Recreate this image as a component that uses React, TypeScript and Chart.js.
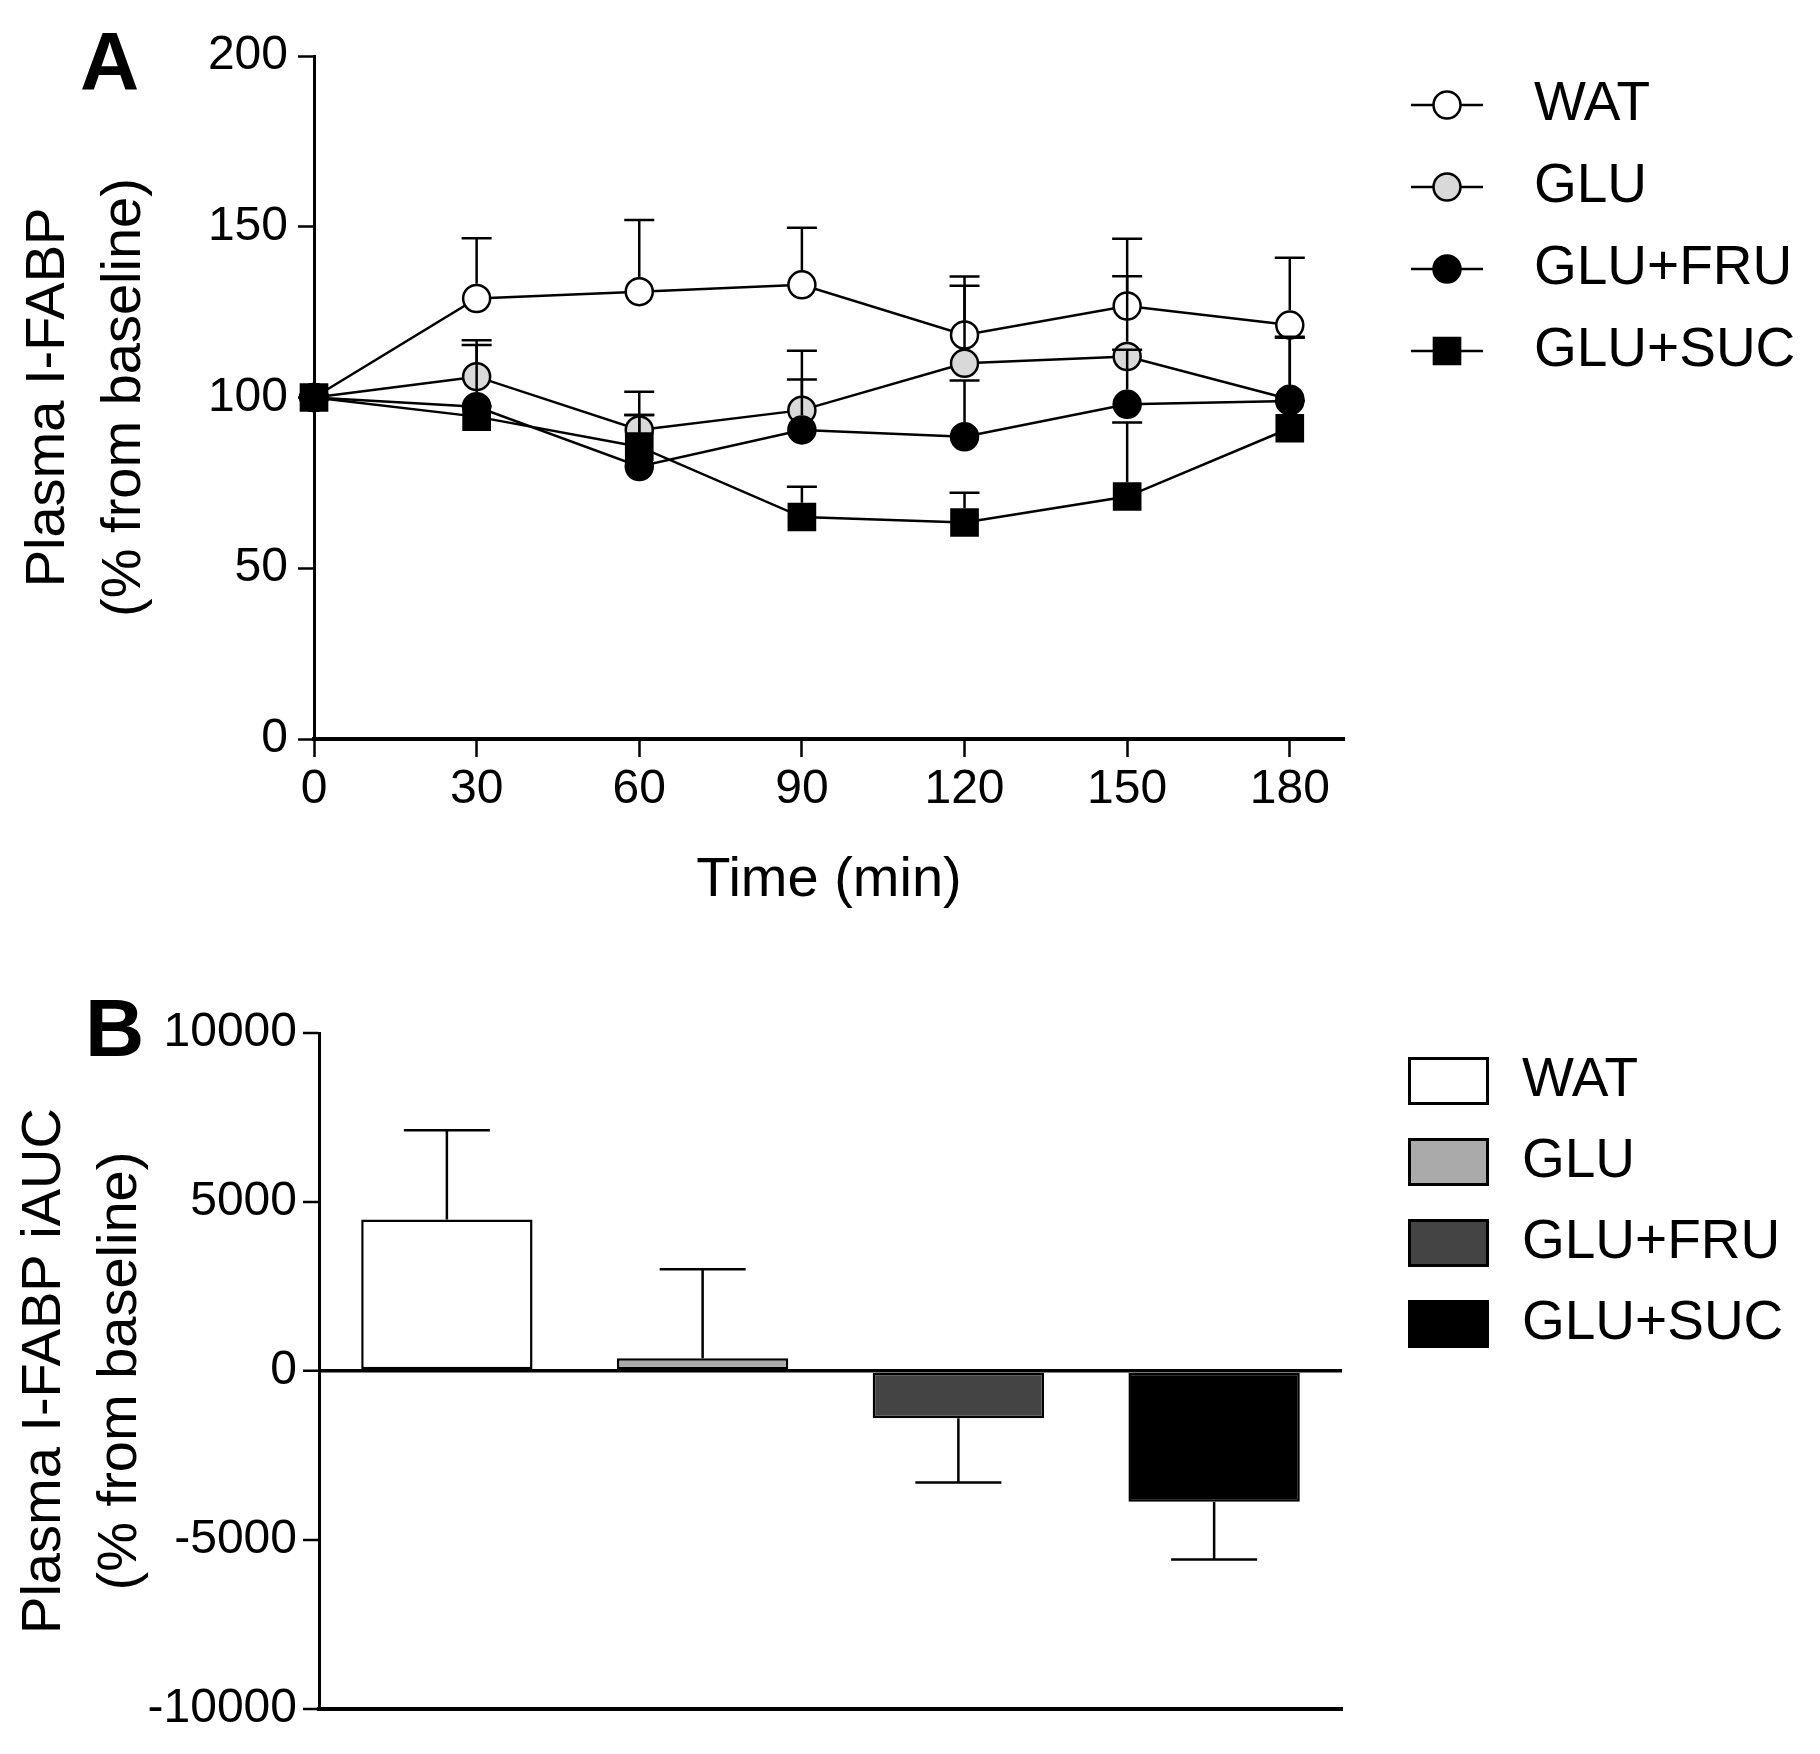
import { Chart, registerables, type ChartConfiguration, type Plugin } from "chart.js";
import { useEffect, useRef } from "react";

Chart.register(...registerables);

const FONT = "Arial, 'Liberation Sans', Helvetica, sans-serif";

// Panel A: time course (% from baseline)
const timePoints = [0, 30, 60, 90, 120, 150, 180];
const timeTicks = [0, 30, 60, 90, 120, 150, 180];
const pctTicks = [0, 50, 100, 150, 200];

const watPct = [100, 129, 131, 133, 118.3, 126.8, 121.2];
const watPctSem = [0, 17.6, 21, 16.7, 17.1, 19.7, 19.7];
const gluPct = [100, 106.1, 90.5, 96.3, 110, 112, 99.5];
const gluPctSem = [0, 10.7, 11.2, 17.4, 22.7, 23.5, 18.3];
const fruPct = [100, 97.3, 79.8, 90.5, 88.5, 98, 99];
const fruPctSem = [0, 18.1, 15.1, 14.8, 16.5, 16, 18.5];
const sucPct = [100, 94.4, 85.6, 65, 63.4, 71, 91];
const sucPctSem = [0, 3, 9.3, 8.9, 8.7, 21.7, 8];

// Panel B: iAUC
const groups = ["WAT", "GLU", "GLU+FRU", "GLU+SUC"];
const iauc = [4480, 380, -1400, -3870];
const iaucSem = [2640, 2630, 1900, 1710];
const iaucTicks = [-10000, -5000, 0, 5000, 10000];
const barColors = ["#ffffff", "#aaaaaa", "#444444", "#000000"];

const markerHalf = (ds: any) => {
  const r = ds.pointRadius ?? 0;
  const bw = ds.pointBorderWidth ?? 0;
  return (ds.pointStyle === "rect" ? r * Math.SQRT1_2 : r) + bw / 2;
};

const drawMarker = (ctx: CanvasRenderingContext2D, ds: any, x: number, y: number) => {
  const r = ds.pointRadius;
  ctx.beginPath();
  if (ds.pointStyle === "rect") {
    const s = r * Math.SQRT1_2;
    ctx.rect(x - s, y - s, 2 * s, 2 * s);
  } else {
    ctx.arc(x, y, r, 0, Math.PI * 2);
  }
  ctx.fillStyle = ds.pointBackgroundColor;
  ctx.fill();
  ctx.lineWidth = ds.pointBorderWidth;
  ctx.strokeStyle = ds.pointBorderColor;
  ctx.stroke();
};

// error bars, one direction only (away from zero), drawn over the marks
const errorBars: Plugin = {
  id: "errorBars",
  afterDatasetsDraw(chart, _args, opts: any) {
    const { ctx } = chart;
    ctx.save();
    ctx.strokeStyle = "#000";
    ctx.lineWidth = opts.lineWidth ?? 2.5;
    ctx.lineCap = "butt";
    chart.data.datasets.forEach((ds: any, i) => {
      const errs: number[] | undefined = ds.errors;
      const meta = chart.getDatasetMeta(i);
      if (!errs) return;
      const yScale = chart.scales[meta.yAxisID as string];
      const gap = opts.fromMarker ? markerHalf(ds) : 0;
      meta.data.forEach((el: any, j) => {
        const v = (meta.controller.getParsed(j) as any).y;
        const e = errs[j];
        if (!e) return;
        const sign = v < 0 ? -1 : 1;
        const yEnd = yScale.getPixelForValue(v + sign * e);
        const yStart = el.y - sign * gap;
        ctx.beginPath();
        if (sign * (yStart - yEnd) > 0) {
          ctx.moveTo(el.x, yStart);
          ctx.lineTo(el.x, yEnd);
        }
        ctx.moveTo(el.x - opts.capWidth / 2, yEnd);
        ctx.lineTo(el.x + opts.capWidth / 2, yEnd);
        ctx.stroke();
      });
    });
    ctx.restore();
  },
};

const sideLegend: Plugin = {
  id: "sideLegend",
  afterDraw(chart, _args, opts: any) {
    const { ctx } = chart;
    ctx.save();
    ctx.font = `${opts.fontSize}px ${FONT}`;
    ctx.textBaseline = "middle";
    ctx.textAlign = "left";
    if (opts.mode === "line") {
      chart.data.datasets.forEach((ds: any, i) => {
        const y = opts.y + i * opts.step;
        ctx.beginPath();
        ctx.moveTo(opts.x, y);
        ctx.lineTo(opts.x + opts.width, y);
        ctx.lineWidth = ds.borderWidth;
        ctx.strokeStyle = ds.borderColor;
        ctx.stroke();
        drawMarker(ctx, ds, opts.x + opts.width / 2, y);
        ctx.fillStyle = "#000";
        ctx.fillText(ds.label, opts.textX, y);
      });
    } else {
      const ds: any = chart.data.datasets[0];
      (chart.data.labels as string[]).forEach((label, i) => {
        const y = opts.y + i * opts.step;
        const bw = opts.borderWidth;
        ctx.fillStyle = ds.backgroundColor[i];
        ctx.fillRect(opts.x, y - opts.height / 2, opts.width, opts.height);
        ctx.lineWidth = bw;
        ctx.strokeStyle = "#000";
        ctx.strokeRect(opts.x + bw / 2, y - opts.height / 2 + bw / 2, opts.width - bw, opts.height - bw);
        ctx.fillStyle = "#000";
        ctx.fillText(label, opts.textX, y);
      });
    }
    ctx.restore();
  },
};

const panelLetter: Plugin = {
  id: "panelLetter",
  afterDraw(chart, _args, opts: any) {
    const { ctx } = chart;
    ctx.save();
    ctx.font = `bold ${opts.fontSize}px ${FONT}`;
    ctx.textBaseline = "alphabetic";
    ctx.fillStyle = "#000";
    ctx.fillText(opts.text, opts.x, opts.y);
    ctx.restore();
  },
};

const lineSeries = (
  label: string,
  values: number[],
  errors: number[],
  fill: string,
  style: "circle" | "rect",
  order: number
) => ({
  label,
  data: timePoints.map((t, i) => ({ x: t, y: values[i] })),
  errors,
  borderColor: "#000",
  borderWidth: 2.5,
  pointStyle: style,
  pointRadius: style === "rect" ? 18.5 : 13.5,
  pointHoverRadius: style === "rect" ? 18.5 : 13.5,
  pointBackgroundColor: fill,
  pointBorderColor: "#000",
  pointBorderWidth: 2.5,
  tension: 0,
  clip: false as const,
  order,
});

const PanelA = () => {
  const canvasRef = useRef<HTMLCanvasElement | null>(null);
  useEffect(() => {
    if (!canvasRef.current) return;
    const config: ChartConfiguration<"line"> = {
      type: "line",
      data: {
        datasets: [
          lineSeries("WAT", watPct, watPctSem, "#ffffff", "circle", 4),
          lineSeries("GLU", gluPct, gluPctSem, "#d9d9d9", "circle", 3),
          lineSeries("GLU+FRU", fruPct, fruPctSem, "#000000", "circle", 2),
          lineSeries("GLU+SUC", sucPct, sucPctSem, "#000000", "rect", 1),
        ] as any,
      },
      options: {
        animation: false,
        responsive: true,
        maintainAspectRatio: false,
        events: [],
        layout: { padding: { left: 0, top: 56, right: 476, bottom: 0 } },
        plugins: {
          legend: { display: false },
          tooltip: { enabled: false },
          errorBars: { capWidth: 30, lineWidth: 2.5, fromMarker: true },
          sideLegend: { mode: "line", x: 1411, width: 72, textX: 1534, y: 105, step: 82, fontSize: 55 },
          panelLetter: { text: "A", x: 80, y: 89, fontSize: 82 },
        } as any,
        scales: {
          x: {
            type: "linear",
            min: 0,
            max: 190,
            afterBuildTicks: (s) => {
              s.ticks = timeTicks.map((v) => ({ value: v }));
            },
            afterFit: (s) => {
              s.height = 201;
            },
            grid: { drawOnChartArea: false, drawTicks: true, tickLength: 18, tickWidth: 2.5, tickColor: "#000" },
            border: { display: true, color: "#000", width: 4 },
            ticks: { color: "#000", font: { size: 48 }, padding: 4, maxRotation: 0, autoSkip: false },
            title: {
              display: true,
              text: "Time (min)",
              color: "#000",
              font: { size: 56 },
              padding: { top: 0, bottom: 26 },
            },
          },
          y: {
            min: 0,
            max: 200,
            afterBuildTicks: (s) => {
              s.ticks = pctTicks.map((v) => ({ value: v }));
            },
            afterFit: (s) => {
              s.width = 314;
            },
            grid: { drawOnChartArea: false, drawTicks: true, tickLength: 16, tickWidth: 2.5, tickColor: "#000" },
            border: { display: true, color: "#000", width: 3 },
            ticks: { color: "#000", font: { size: 48 }, padding: 10 },
            title: {
              display: true,
              text: ["Plasma I-FABP", "(% from baseline)"],
              color: "#000",
              font: { size: 56, lineHeight: 1.36 },
              padding: { top: 10, bottom: 0 },
            },
          },
        },
      },
      plugins: [errorBars, sideLegend, panelLetter],
    };
    const chart = new Chart(canvasRef.current, config);
    return () => chart.destroy();
  }, []);
  return (
    <div style={{ position: "absolute", left: 0, top: 0, width: 1820, height: 940 }}>
      <canvas ref={canvasRef}></canvas>
    </div>
  );
};

const PanelB = () => {
  const canvasRef = useRef<HTMLCanvasElement | null>(null);
  useEffect(() => {
    if (!canvasRef.current) return;
    const config: ChartConfiguration<"bar"> = {
      type: "bar",
      data: {
        labels: groups,
        datasets: [
          {
            label: "iAUC",
            data: iauc,
            errors: iaucSem,
            backgroundColor: barColors,
            borderColor: "#000",
            borderWidth: 2.5,
            borderSkipped: false,
            barPercentage: 0.67,
            categoryPercentage: 1,
          } as any,
        ],
      },
      options: {
        animation: false,
        responsive: true,
        maintainAspectRatio: false,
        events: [],
        layout: { padding: { left: 0, top: 93, right: 478, bottom: 0 } },
        plugins: {
          legend: { display: false },
          tooltip: { enabled: false },
          errorBars: { capWidth: 86, lineWidth: 2.5, fromMarker: false },
          sideLegend: {
            mode: "box",
            x: 1408,
            width: 81,
            height: 48,
            borderWidth: 3,
            textX: 1522,
            y: 141,
            step: 81,
            fontSize: 55,
          },
          panelLetter: { text: "B", x: 85, y: 116, fontSize: 82 },
        } as any,
        scales: {
          x: {
            type: "category",
            afterFit: (s) => {
              s.height = 45;
            },
            grid: { display: false },
            border: { display: true, color: "#000", width: 4 },
            ticks: { display: false },
          },
          y: {
            min: -10000,
            max: 10000,
            afterBuildTicks: (s) => {
              s.ticks = iaucTicks.map((v) => ({ value: v }));
            },
            afterFit: (s) => {
              s.width = 319;
            },
            grid: {
              drawOnChartArea: true,
              drawTicks: true,
              color: (c) => (c.tick && c.tick.value === 0 ? "#000" : "rgba(0,0,0,0)"),
              lineWidth: (c) => (c.tick && c.tick.value === 0 ? 3.5 : 0),
              tickLength: 16,
              tickWidth: 2.5,
              tickColor: "#000",
            },
            border: { display: true, color: "#000", width: 3 },
            ticks: {
              color: "#000",
              font: { size: 48 },
              padding: 6,
              callback: (v) => String(v),
            },
            title: {
              display: true,
              text: ["Plasma I-FABP iAUC", "(% from baseline)"],
              color: "#000",
              font: { size: 56, lineHeight: 1.36 },
              padding: { top: 6, bottom: 0 },
            },
          },
        },
      },
      plugins: [errorBars, sideLegend, panelLetter],
    };
    const chart = new Chart(canvasRef.current, config);
    return () => chart.destroy();
  }, []);
  return (
    <div style={{ position: "absolute", left: 0, top: 940, width: 1820, height: 814 }}>
      <canvas ref={canvasRef}></canvas>
    </div>
  );
};

export default function App() {
  Chart.defaults.font.family = FONT;
  Chart.defaults.color = "#000";
  return (
    <div
      style={{
        position: "absolute",
        left: 0,
        top: 0,
        width: 1820,
        height: 1754,
        background: "#fff",
        overflow: "hidden",
      }}
    >
      <PanelA />
      <PanelB />
    </div>
  );
}
